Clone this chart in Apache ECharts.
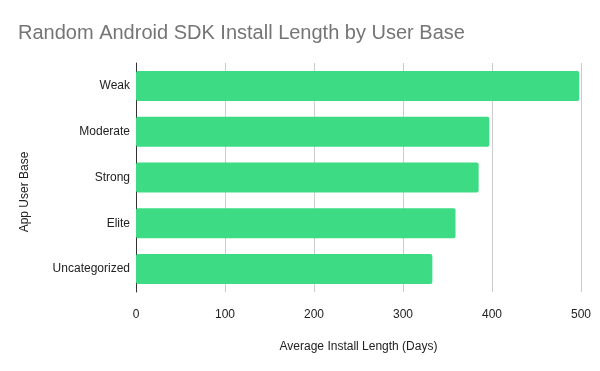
<!DOCTYPE html>
<html><head><meta charset="utf-8">
<script src="https://cdn.jsdelivr.net/npm/echarts@6/dist/echarts.min.js"></script>
<style>html,body{margin:0;padding:0;background:#fff}#c{width:600px;height:371px}</style>
</head><body><div id="c"></div>
<script>
const categories = ['Weak', 'Moderate', 'Strong', 'Elite', 'Uncategorized'];
const installDays = [498, 397, 385, 359, 333];
const xTicks = [0, 100, 200, 300, 400, 500];

const FONT = 'Liberation Sans, Arial, sans-serif';
const chart = echarts.init(document.getElementById('c'), null, {renderer: 'canvas'});
chart.setOption({
  animation: false,
  backgroundColor: '#ffffff',
  title: {
    text: 'Random Android SDK Install Length by User Base',
    left: 13, top: 18,
    textStyle: {fontFamily: FONT, fontSize: 20, fontWeight: 'normal', color: '#757575'}
  },
  graphic: [{
    type: 'text',
    x: 25, y: 192, rotation: Math.PI / 2,
    style: {text: 'App User Base', font: '12px ' + FONT, fill: '#222', align: 'center', verticalAlign: 'middle'}
  }],
  grid: {left: 136, right: 19, top: 63, bottom: 79, containLabel: false},
  xAxis: {
    type: 'value', min: xTicks[0], max: xTicks[xTicks.length - 1], interval: 100,
    name: 'Average Install Length (Days)', nameLocation: 'middle', nameGap: 49,
    nameTextStyle: {fontFamily: FONT, fontSize: 12, color: '#222'},
    axisLine: {show: false}, axisTick: {show: false},
    axisLabel: {margin: 17, fontFamily: FONT, fontSize: 12, color: '#222'},
    splitLine: {show: true, lineStyle: {color: '#cccccc', width: 1}}
  },
  yAxis: {
    type: 'category', data: categories, inverse: true,
    axisLine: {show: true, lineStyle: {color: '#333333', width: 1}},
    axisTick: {show: false},
    axisLabel: {margin: 6, fontFamily: FONT, fontSize: 12, color: '#222'}
  },
  series: [{
    type: 'bar', data: installDays, barWidth: 30,
    itemStyle: {color: '#3ddc84', borderRadius: 2},
    z: 1
  }]
});
</script></body></html>
